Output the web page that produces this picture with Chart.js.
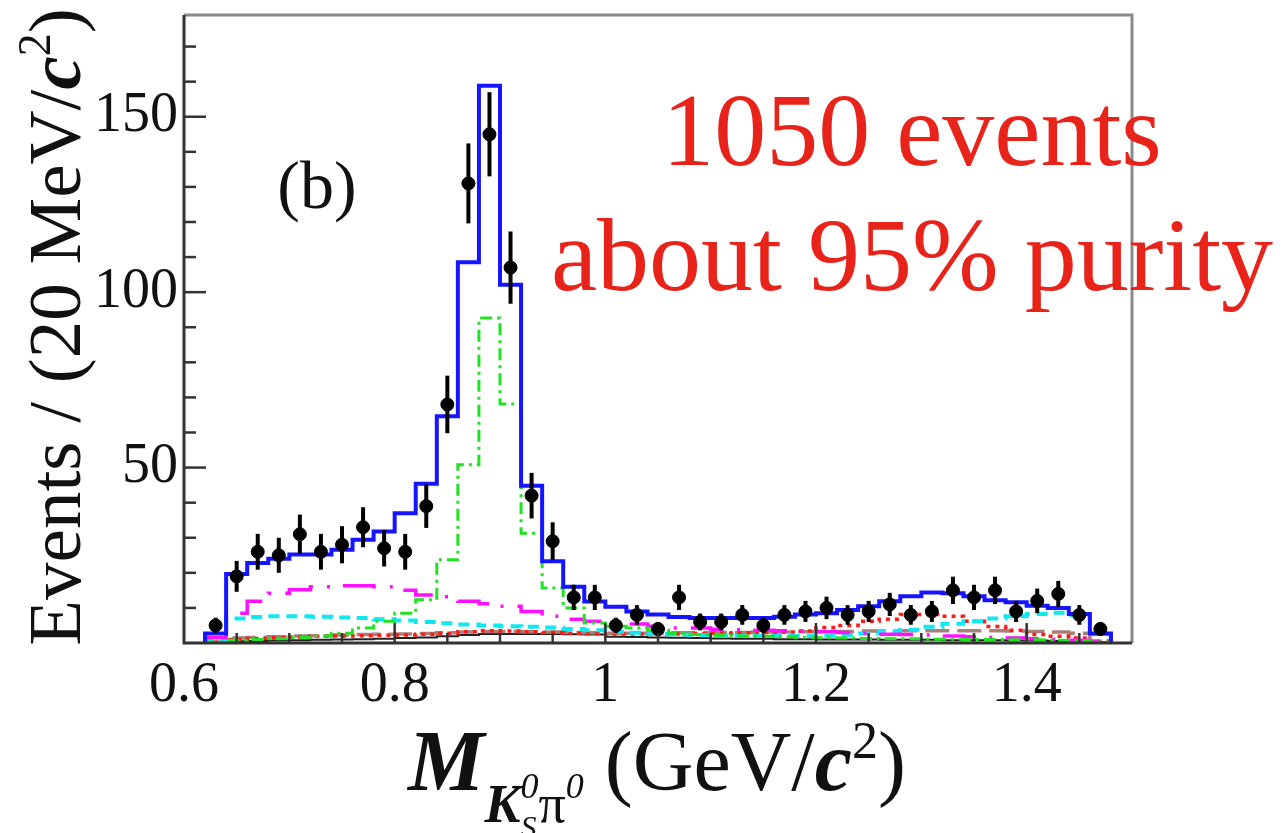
<!DOCTYPE html>
<html>
<head>
<meta charset="utf-8">
<script src="https://cdn.jsdelivr.net/npm/chart.js@4.4.1/dist/chart.umd.min.js"></script>
<style>
  html, body { margin: 0; padding: 0; background: #fff; }
</style>
</head>
<body>
<canvas id="chart" width="1287" height="833"></canvas>
<script>
// ---- bins: 20 MeV/c^2, centres in GeV/c^2 ----
const binCentres = [0.63, 0.65, 0.67, 0.69, 0.71, 0.73, 0.75, 0.77, 0.79, 0.81,
                    0.83, 0.85, 0.87, 0.89, 0.91, 0.93, 0.95, 0.97, 0.99, 1.01,
                    1.03, 1.05, 1.07, 1.09, 1.11, 1.13, 1.15, 1.17, 1.19, 1.21,
                    1.23, 1.25, 1.27, 1.29, 1.31, 1.33, 1.35, 1.37, 1.39, 1.41,
                    1.43, 1.45, 1.47];
const binHalfWidth = 0.01;

// ---- data (events per bin) and errors ----
const dataCounts = [5, 19, 26, 25, 31, 26, 28, 33, 27, 26,
                    39, 68, 131, 145, 107, 42, 29, 13, 13, 5,
                    8, 4, 13, 6, 6, 8, 5, 8, 9, 10,
                    8, 9, 11, 8, 9, 15, 13, 15, 9, 12,
                    14, 8, 4];
const dataErrors = [2.2, 4.4, 5.1, 5.0, 5.6, 5.1, 5.3, 5.7, 5.2, 5.1,
                    6.2, 8.2, 11.4, 12.0, 10.3, 6.5, 5.4, 3.6, 3.6, 2.2,
                    2.8, 2.0, 3.6, 2.4, 2.4, 2.8, 2.2, 2.8, 3.0, 3.2,
                    2.8, 3.0, 3.3, 2.8, 3.0, 3.9, 3.6, 3.9, 3.0, 3.5,
                    3.7, 2.8, 2.0];

// ---- fit components (per bin) ----
const fitTotal = [2.7, 19.7, 22.8, 24.0, 25.2, 25.2, 26.6, 29.4, 31.8, 37.0,
                  45.4, 64.6, 108.5, 158.8, 102.1, 44.8, 23.3, 16.0, 11.8, 10.3,
                  9.0, 8.1, 7.4, 7.1, 7.1, 7.1, 7.1, 7.5, 8.1, 8.5,
                  9.4, 10.5, 11.9, 13.3, 14.4, 14.2, 13.3, 12.2, 11.6, 10.6,
                  10.0, 8.3, 2.7];
const fitKstar = [0.3, 0.8, 1.0, 1.2, 1.6, 2.0, 2.8, 4.3, 6.2, 8.5,
                  12.3, 23.7, 50.8, 92.6, 68.1, 31.3, 15.7, 10.0, 5.7, 4.8,
                  4.3, 3.6, 2.8, 2.4, 2.2, 2.0, 1.9, 1.8, 1.6, 1.5,
                  1.4, 1.3, 1.2, 1.2, 1.1, 1.1, 1.0, 1.0, 0.9, 0.9,
                  0.8, 0.7, 0.3];
const fitMagenta = [1.5, 8.5, 11.9, 14.2, 15.2, 16.0, 16.3, 16.3, 16.0, 15.0,
                    13.7, 13.2, 11.9, 11.2, 10.5, 9.0, 7.6, 6.8, 6.2, 6.0,
                    5.4, 4.8, 4.3, 4.3, 3.9, 3.8, 3.6, 3.5, 3.4, 3.2,
                    3.0, 2.8, 2.5, 2.4, 2.3, 2.0, 1.8, 1.6, 1.4, 1.2,
                    1.0, 0.8, 0.3];
const fitCyan = [0.8, 7.0, 7.4, 7.6, 7.6, 7.5, 7.3, 7.1, 6.8, 6.4,
                 6.0, 5.6, 5.3, 5.0, 4.8, 4.6, 4.4, 4.0, 3.6, 3.2,
                 2.9, 2.6, 2.4, 2.2, 2.1, 2.0, 2.0, 2.0, 2.0, 2.1,
                 2.3, 2.7, 3.2, 3.8, 4.6, 5.5, 6.2, 7.0, 7.6, 8.3,
                 8.6, 7.9, 2.6];
const fitRed = [0.2, 1.0, 1.3, 1.5, 1.7, 1.9, 2.0, 2.1, 2.2, 2.3,
                2.5, 2.8, 3.2, 3.5, 3.4, 3.2, 3.0, 2.8, 2.7, 2.6,
                2.6, 2.6, 2.6, 2.7, 2.8, 2.9, 3.0, 3.1, 3.4, 4.4,
                5.0, 6.2, 6.8, 8.1, 8.1, 7.6, 6.2, 4.7, 3.6, 2.4,
                1.9, 1.4, 0.5];
const fitBrown = [0.3, 1.4, 1.6, 1.8, 2.0, 2.1, 2.3, 2.4, 2.5, 2.6,
                  2.7, 2.9, 3.1, 3.3, 3.3, 3.2, 3.1, 3.0, 2.9, 2.8,
                  2.8, 2.8, 2.9, 2.9, 3.0, 3.0, 3.1, 3.1, 3.2, 3.3,
                  3.3, 3.4, 3.4, 3.5, 3.5, 3.5, 3.5, 3.5, 3.4, 3.3,
                  3.1, 2.8, 0.6];
const fitBlack = [0.2, 0.5, 0.6, 0.7, 0.8, 0.9, 1.0, 1.1, 1.2, 1.4,
                  1.6, 1.9, 2.3, 2.6, 2.6, 2.6, 2.6, 2.5, 2.4, 1.8,
                  1.7, 1.6, 1.5, 1.4, 1.3, 1.2, 1.2, 1.1, 1.1, 1.0,
                  1.0, 1.0, 0.9, 0.9, 0.9, 0.8, 0.8, 0.8, 0.7, 0.7,
                  0.6, 0.5, 0.2];

// ---- axes ----
const xTickValues = [0.6, 0.8, 1.0, 1.2, 1.4];
const yTickValues = [50, 100, 150];
const xRange = [0.6, 1.5];
const yRange = [0, 179];

const SERIF = "'Liberation Serif', 'Times New Roman', serif";

// turns per-bin values into a step outline (left edges + closing edge)
function histPoints(values) {
  const pts = [{ x: binCentres[0] - binHalfWidth, y: 0 }];
  values.forEach((v, i) => pts.push({ x: binCentres[i] - binHalfWidth, y: v }));
  const last = binCentres[binCentres.length - 1] + binHalfWidth;
  pts.push({ x: last, y: values[values.length - 1] });
  pts.push({ x: last, y: 0 });
  return pts;
}

function histSet(values, color, width, dash) {
  return {
    type: 'line',
    data: histPoints(values),
    borderColor: color,
    borderWidth: width,
    borderDash: dash,
    stepped: true,
    pointRadius: 0,
    fill: false
  };
}

// rich text in a row: {t, f, dy, stay}
function drawRuns(ctx, runs, x, y, centred) {
  let total = 0;
  runs.forEach(r => { ctx.font = r.f; if (!r.stay) total += ctx.measureText(r.t).width; });
  let cx = centred ? x - total / 2 : x;
  ctx.textAlign = 'left';
  ctx.textBaseline = 'alphabetic';
  runs.forEach(r => {
    ctx.font = r.f;
    ctx.fillText(r.t, cx, y + (r.dy || 0));
    if (!r.stay) cx += ctx.measureText(r.t).width;
  });
}

const errorBars = {
  id: 'errorBars',
  afterDatasetsDraw(chart) {
    const { ctx, scales: { x, y } } = chart;
    ctx.save();
    ctx.strokeStyle = '#000';
    ctx.lineWidth = 4;
    binCentres.forEach((c, i) => {
      const px = x.getPixelForValue(c);
      ctx.beginPath();
      ctx.moveTo(px, y.getPixelForValue(dataCounts[i] - dataErrors[i]));
      ctx.lineTo(px, y.getPixelForValue(dataCounts[i] + dataErrors[i]));
      ctx.stroke();
    });
    ctx.restore();
  }
};

const frameAndText = {
  id: 'frameAndText',
  afterDraw(chart) {
    const { ctx, chartArea: a, scales: { x, y } } = chart;
    ctx.save();
    // frame
    ctx.lineWidth = 3;
    ctx.strokeStyle = '#8a8a8a';
    ctx.beginPath();
    ctx.moveTo(a.left, a.top); ctx.lineTo(a.right, a.top); ctx.lineTo(a.right, a.bottom);
    ctx.stroke();
    ctx.strokeStyle = '#333';
    ctx.beginPath();
    ctx.moveTo(a.left, a.top); ctx.lineTo(a.left, a.bottom); ctx.lineTo(a.right, a.bottom);
    ctx.stroke();

    // inside ticks
    ctx.lineWidth = 2.5;
    ctx.strokeStyle = '#333';
    for (let v = 10; v < yRange[1]; v += 10) {
      const py = y.getPixelForValue(v);
      const len = v % 50 === 0 ? 22 : 12;
      ctx.beginPath(); ctx.moveTo(a.left, py); ctx.lineTo(a.left + len, py); ctx.stroke();
    }
    for (let k = 1; k < 18; k++) {
      const v = xRange[0] + k * 0.05;
      const px = x.getPixelForValue(v);
      const len = k % 4 === 0 ? 20 : 10;
      ctx.beginPath(); ctx.moveTo(px, a.bottom); ctx.lineTo(px, a.bottom - len); ctx.stroke();
    }

    ctx.fillStyle = '#111';
    // x title
    drawRuns(ctx, [
      { t: 'M', f: `italic bold 86px ${SERIF}` },
      { t: 'K', f: `italic bold 54px ${SERIF}`, dy: 32 },
      { t: 'S', f: `italic 32px ${SERIF}`, dy: 48, stay: true },
      { t: '0', f: `italic 36px ${SERIF}`, dy: 8 },
      { t: 'π', f: `54px ${SERIF}`, dy: 32 },
      { t: '0', f: `italic 36px ${SERIF}`, dy: 8 },
      { t: ' (GeV/', f: `84px ${SERIF}` },
      { t: 'c', f: `italic bold 84px ${SERIF}` },
      { t: '2', f: `52px ${SERIF}`, dy: -32 },
      { t: ')', f: `84px ${SERIF}` }
    ], 408, 790, false);

    // y title
    ctx.save();
    ctx.translate(80, 327);
    ctx.rotate(-Math.PI / 2);
    drawRuns(ctx, [
      { t: 'Events / (20 MeV/', f: `75px ${SERIF}` },
      { t: 'c', f: `italic bold 75px ${SERIF}` },
      { t: '2', f: `46px ${SERIF}`, dy: -30 },
      { t: ')', f: `75px ${SERIF}` }
    ], 0, 0, true);
    ctx.restore();

    // panel label
    ctx.font = `68px ${SERIF}`;
    ctx.textAlign = 'center';
    ctx.fillText('(b)', 317, 208);

    // annotation
    ctx.fillStyle = '#e8231a';
    ctx.font = `104px ${SERIF}`;
    ctx.fillText('1050 events', 912, 165);
    ctx.fillText('about 95% purity', 912, 290);
    ctx.restore();
  }
};

new Chart(document.getElementById('chart'), {
  data: {
    datasets: [
      {
        type: 'scatter',
        data: binCentres.map((c, i) => ({ x: c, y: dataCounts[i] })),
        backgroundColor: '#000',
        borderColor: '#000',
        pointRadius: 6.5,
        pointHoverRadius: 6.5
      },
      histSet(fitTotal, '#1515ff', 4, []),
      histSet(fitKstar, '#22e022', 3, [12, 5, 3, 5]),
      histSet(fitMagenta, '#ff10ff', 3.5, [34, 14, 3, 14]),
      histSet(fitCyan, '#10e8f0', 4, [11, 7]),
      histSet(fitRed, '#ff1a1a', 3.5, [4, 5]),
      histSet(fitBrown, '#a88078', 3.5, [24, 8]),
      histSet(fitBlack, '#222', 2, [])
    ]
  },
  options: {
    responsive: false,
    animation: false,
    events: [],
    layout: { padding: { left: 0, top: 15, right: 155, bottom: 0 } },
    plugins: { legend: { display: false }, tooltip: { enabled: false } },
    scales: {
      x: {
        type: 'linear',
        min: xRange[0],
        max: xRange[1],
        afterBuildTicks: s => { s.ticks = xTickValues.map(v => ({ value: v })); },
        afterFit: s => { s.height = 190; s.paddingLeft = 0; s.paddingRight = 0; },
        grid: { display: false, drawTicks: false },
        border: { display: false },
        ticks: {
          color: '#111',
          font: { family: SERIF, size: 56 },
          padding: 10,
          maxRotation: 0,
          callback: v => String(+v.toFixed(1))
        }
      },
      y: {
        type: 'linear',
        min: yRange[0],
        max: yRange[1],
        afterBuildTicks: s => { s.ticks = yTickValues.map(v => ({ value: v })); },
        afterFit: s => { s.width = 184; s.paddingTop = 0; s.paddingBottom = 0; },
        grid: { display: false, drawTicks: false },
        border: { display: false },
        ticks: {
          color: '#111',
          font: { family: SERIF, size: 56 },
          padding: 6
        }
      }
    }
  },
  plugins: [errorBars, frameAndText]
});
</script>
</body>
</html>
